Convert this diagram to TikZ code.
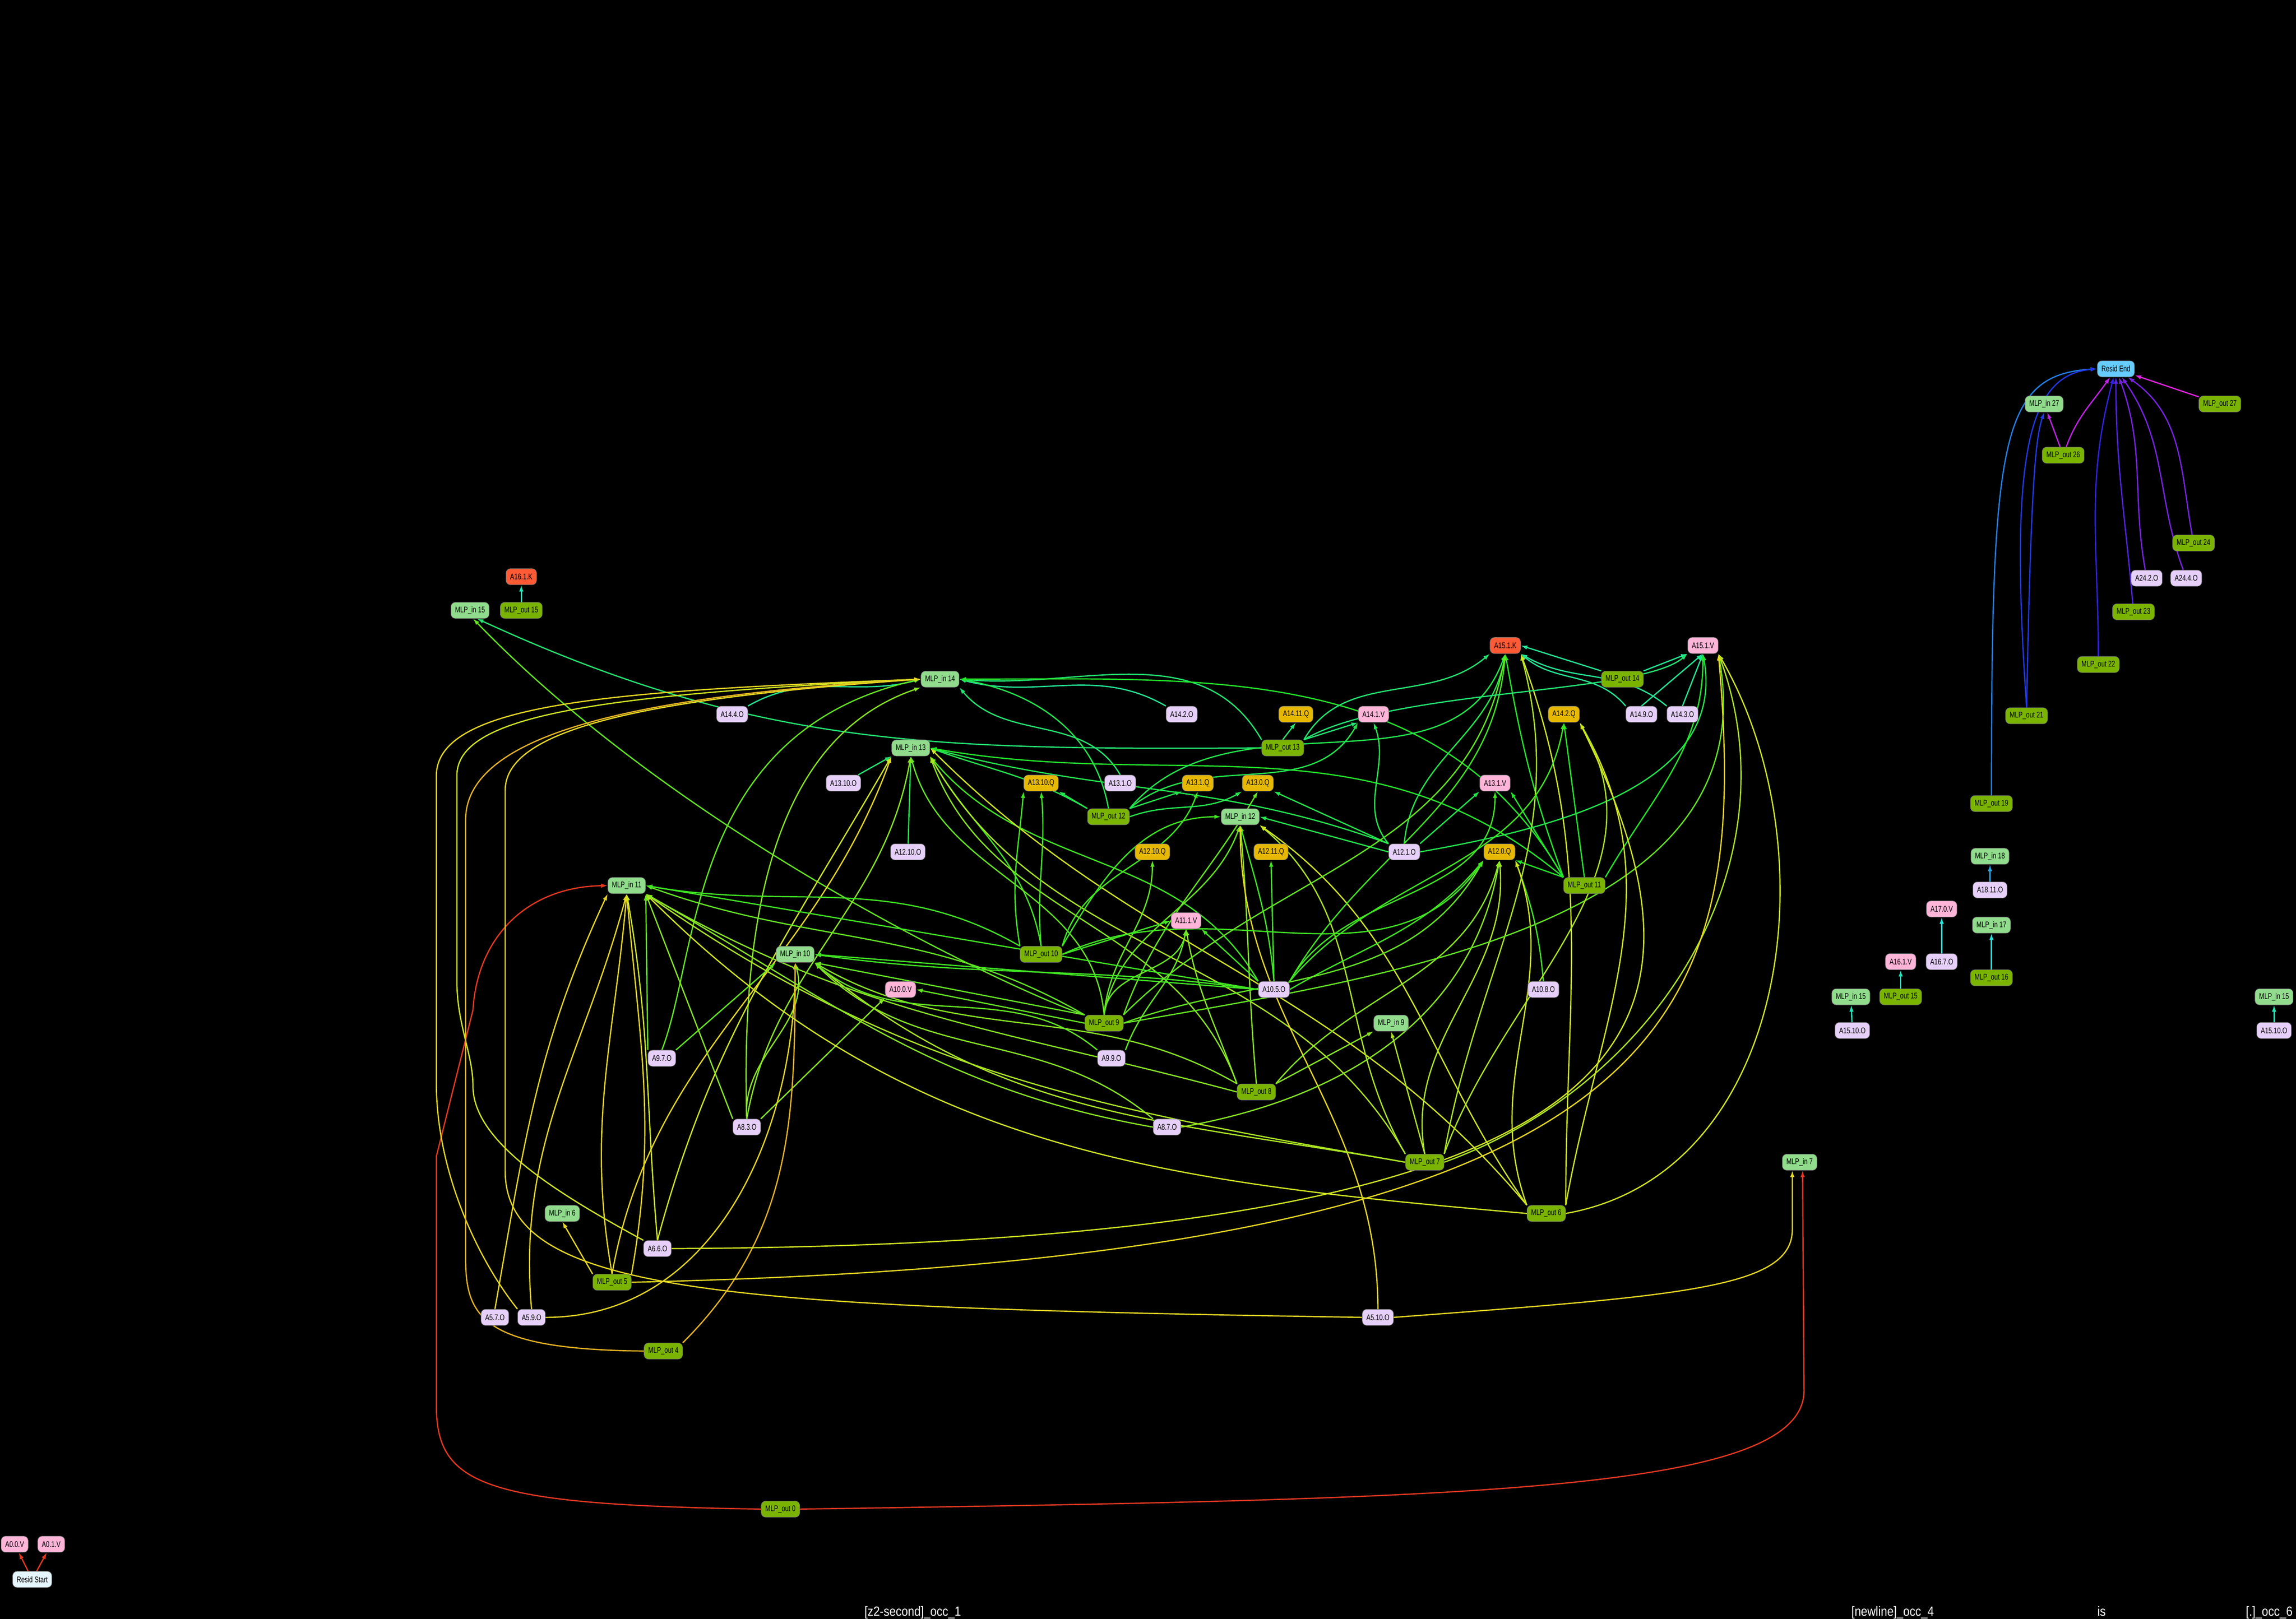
\documentclass[tikz,border=0pt]{standalone}
\usepackage{fontspec}
\setmainfont[FakeStretch=0.76]{Liberation Sans}
\newfontfamily\tokfont[FakeStretch=0.86]{Liberation Sans}
\usetikzlibrary{arrows.meta}

\definecolor{mlpinfill}{RGB}{144,220,140}
\definecolor{mlpoutfill}{RGB}{122,180,0}
\definecolor{ofill}{RGB}{230,208,250}
\definecolor{vfill}{RGB}{255,180,216}
\definecolor{qfill}{RGB}{230,184,0}
\definecolor{kfill}{RGB}{255,90,54}
\definecolor{endfill}{RGB}{102,204,255}
\definecolor{startfill}{RGB}{230,246,255}
% edge colours, one per source layer
\definecolor{lay0}{rgb}{0.900,0.220,0.135}
\definecolor{lay4}{rgb}{0.900,0.702,0.135}
\definecolor{lay5}{rgb}{0.900,0.844,0.135}
\definecolor{lay6}{rgb}{0.815,0.900,0.135}
\definecolor{lay7}{rgb}{0.673,0.900,0.135}
\definecolor{lay8}{rgb}{0.532,0.900,0.135}
\definecolor{lay9}{rgb}{0.390,0.900,0.135}
\definecolor{lay10}{rgb}{0.248,0.900,0.135}
\definecolor{lay11}{rgb}{0.135,0.900,0.163}
\definecolor{lay12}{rgb}{0.135,0.900,0.305}
\definecolor{lay13}{rgb}{0.135,0.900,0.446}
\definecolor{lay14}{rgb}{0.135,0.900,0.589}
\definecolor{lay15}{rgb}{0.135,0.900,0.730}
\definecolor{lay16}{rgb}{0.135,0.900,0.872}
\definecolor{lay18}{rgb}{0.135,0.645,0.900}
\definecolor{lay19}{rgb}{0.135,0.503,0.900}
\definecolor{lay21}{rgb}{0.135,0.220,0.900}
\definecolor{lay22}{rgb}{0.192,0.135,0.900}
\definecolor{lay23}{rgb}{0.333,0.135,0.900}
\definecolor{lay24}{rgb}{0.475,0.135,0.900}
\definecolor{lay26}{rgb}{0.758,0.135,0.900}
\definecolor{lay27}{rgb}{0.900,0.135,0.900}

\pgfdeclarelayer{bg}
\pgfdeclarelayer{edges}
\pgfsetlayers{bg,edges,main}

\tikzset{
  box/.style={rectangle,rounded corners=0.6mm,draw=black!55,line width=0.06mm,minimum height=2.2mm,inner xsep=0.56mm,inner ysep=0.2mm,text=black,font=\fontsize{3.2}{3.6}\selectfont},
  mlpin/.style={box,fill=mlpinfill},
  mlpout/.style={box,fill=mlpoutfill},
  heado/.style={box,fill=ofill},
  headv/.style={box,fill=vfill},
  headq/.style={box,fill=qfill},
  headk/.style={box,fill=kfill},
  residend/.style={box,fill=endfill},
  residstart/.style={box,fill=startfill},
  toklabel/.style={text=white,inner sep=0pt,font=\tokfont\fontsize{5.2}{5.6}\selectfont},
  wire/.style={draw=lay#1,line width=0.17mm,-{Latex[length=0.9mm,width=0.6mm]}}
}

\begin{document}
\begin{tikzpicture}[x=0.2mm,y=0.2mm]
\begin{pgfonlayer}{bg}
\fill[black] (0,0) rectangle (1568,-1106);
\end{pgfonlayer}
\useasboundingbox (0,0) rectangle (1568,-1106);

% right hand cluster
\node[residend] (rend) at (1445,-252) {Resid End};
\node[mlpin] (in27) at (1396,-276) {MLP\_in 27};
\node[mlpout] (o27) at (1516,-276) {MLP\_out 27};
\node[mlpout] (o26) at (1409,-311) {MLP\_out 26};
\node[mlpout] (o24) at (1498,-371) {MLP\_out 24};
\node[heado] (a24o2) at (1466,-395) {A24.2.O};
\node[heado] (a24o4) at (1493,-395) {A24.4.O};
\node[mlpout] (o23) at (1457,-418) {MLP\_out 23};
\node[mlpout] (o22) at (1433,-454) {MLP\_out 22};
\node[mlpout] (o21) at (1384,-489) {MLP\_out 21};
\node[mlpout] (o19) at (1360,-549) {MLP\_out 19};
\node[mlpin] (in18) at (1359,-585) {MLP\_in 18};
\node[heado] (a18o11) at (1359,-608) {A18.11.O};
\node[headv] (a17v0) at (1326,-621) {A17.0.V};
\node[mlpin] (in17) at (1360,-632) {MLP\_in 17};
\node[headv] (a16v1) at (1298,-657) {A16.1.V};
\node[heado] (a16o7) at (1326,-657) {A16.7.O};
\node[mlpout] (o16) at (1360,-668) {MLP\_out 16};
\node[mlpin] (in15b) at (1264,-681) {MLP\_in 15};
\node[mlpout] (o15b) at (1298,-681) {MLP\_out 15};
\node[heado] (a15o10b) at (1265,-704) {A15.10.O};
\node[mlpin] (in15c) at (1553,-681) {MLP\_in 15};
\node[heado] (a15o10c) at (1553,-704) {A15.10.O};
\node[mlpin] (in7) at (1229,-794) {MLP\_in 7};

% left top
\node[headk] (a16k1) at (356,-394) {A16.1.K};
\node[mlpin] (in15a) at (321,-417) {MLP\_in 15};
\node[mlpout] (o15a) at (356,-417) {MLP\_out 15};

% middle block
\node[mlpin] (in14) at (642,-464) {MLP\_in 14};
\node[headk] (a15k1) at (1028,-441) {A15.1.K};
\node[headv] (a15v1) at (1163,-441) {A15.1.V};
\node[mlpout] (o14) at (1108,-464) {MLP\_out 14};
\node[heado] (a14o4) at (500,-488) {A14.4.O};
\node[heado] (a14o2) at (807,-488) {A14.2.O};
\node[headq] (a14q11) at (885,-488) {A14.11.Q};
\node[headv] (a14v1) at (938,-488) {A14.1.V};
\node[headq] (a14q2) at (1068,-488) {A14.2.Q};
\node[heado] (a14o9) at (1121,-488) {A14.9.O};
\node[heado] (a14o3) at (1149,-488) {A14.3.O};
\node[mlpout] (o13) at (876,-511) {MLP\_out 13};
\node[mlpin] (in13) at (622,-511) {MLP\_in 13};
\node[heado] (a13o10) at (576,-535) {A13.10.O};
\node[headq] (a13q10) at (711,-535) {A13.10.Q};
\node[heado] (a13o1) at (765,-535) {A13.1.O};
\node[headq] (a13q1) at (818,-535) {A13.1.Q};
\node[headq] (a13q0) at (859,-535) {A13.0.Q};
\node[headv] (a13v1) at (1021,-535) {A13.1.V};
\node[mlpout] (o12) at (757,-558) {MLP\_out 12};
\node[mlpin] (in12) at (847,-558) {MLP\_in 12};
\node[heado] (a12o10) at (620,-582) {A12.10.O};
\node[headq] (a12q10) at (787,-582) {A12.10.Q};
\node[headq] (a12q11) at (868,-582) {A12.11.Q};
\node[heado] (a12o1) at (959,-582) {A12.1.O};
\node[headq] (a12q0) at (1024,-582) {A12.0.Q};
\node[mlpout] (o11) at (1082,-605) {MLP\_out 11};
\node[mlpin] (in11) at (428,-605) {MLP\_in 11};
\node[headv] (a11v1) at (810,-629) {A11.1.V};
\node[mlpin] (in10) at (543,-652) {MLP\_in 10};
\node[mlpout] (o10) at (711,-652) {MLP\_out 10};
\node[headv] (a10v0) at (615,-676) {A10.0.V};
\node[heado] (a10o5) at (870,-676) {A10.5.O};
\node[heado] (a10o8) at (1054,-676) {A10.8.O};
\node[mlpout] (o9) at (754,-699) {MLP\_out 9};
\node[mlpin] (in9) at (950,-699) {MLP\_in 9};
\node[heado] (a9o7) at (452,-723) {A9.7.O};
\node[heado] (a9o9) at (759,-723) {A9.9.O};
\node[mlpout] (o8) at (858,-746) {MLP\_out 8};
\node[heado] (a8o3) at (510,-770) {A8.3.O};
\node[heado] (a8o7) at (797,-770) {A8.7.O};
\node[mlpout] (o7) at (973,-794) {MLP\_out 7};
\node[mlpout] (o6) at (1056,-829) {MLP\_out 6};
\node[mlpin] (in6) at (384,-829) {MLP\_in 6};
\node[heado] (a6o6) at (449,-853) {A6.6.O};
\node[mlpout] (o5) at (418,-876) {MLP\_out 5};
\node[heado] (a5o7) at (338,-900) {A5.7.O};
\node[heado] (a5o9) at (363,-900) {A5.9.O};
\node[heado] (a5o10) at (941,-900) {A5.10.O};
\node[mlpout] (o4) at (453,-923) {MLP\_out 4};
\node[mlpout] (o0) at (533,-1031) {MLP\_out 0};
\node[headv] (a0v0) at (10,-1055) {A0.0.V};
\node[headv] (a0v1) at (35,-1055) {A0.1.V};
\node[residstart] (rstart) at (22,-1079) {Resid Start};

% token labels
\node[toklabel,anchor=base west] (tok1) at (590,-1104) {[z2-second]\_occ\_1};
\node[toklabel,anchor=base west] (tok4) at (1264,-1104) {[newline]\_occ\_4};
\node[toklabel,anchor=base west] (tokis) at (1432,-1104) {is};
\node[toklabel,anchor=base east] (tok6) at (1566,-1104) {[.]\_occ\_6};

\begin{pgfonlayer}{edges}
% into Resid End
\draw[wire=19] (o19.north) .. controls (1360,-300) and (1366,-256) .. (rend.west);
\draw[wire=21] (o21.north) .. controls (1372,-310) and (1385,-256) .. (rend.west);
\draw[wire=21] (o21.north) .. controls (1387,-330) and (1390,-300) .. (in27.south);
\draw[wire=26] (o26) -- (in27);
\draw[wire=26] (o26) to[out=70,in=-125] (rend);
\draw[wire=22] (o22) to[out=90,in=-105] (rend);
\draw[wire=23] (o23) to[out=95,in=-90] (rend);
\draw[wire=24] (a24o2) to[out=100,in=-70] (rend);
\draw[wire=24] (a24o4) to[out=110,in=-55] (rend);
\draw[wire=24] (o24) to[out=100,in=-35] (rend);
\draw[wire=27] (o27) -- (rend);
\draw[wire=18] (a18o11) -- (in18);
\draw[wire=16] (a16o7) -- (a17v0);
\draw[wire=16] (o16) -- (in17);
\draw[wire=15] (o15b) -- (a16v1);
\draw[wire=15] (a15o10b) -- (in15b);
\draw[wire=15] (a15o10c) -- (in15c);
\draw[wire=15] (o15a) -- (a16k1);
\draw[wire=0] (rstart) -- (a0v0);
\draw[wire=0] (rstart) -- (a0v1);
% long red and yellow ones
\draw[wire=0] (o0.east) .. controls (1000,-1024) and (1232,-1020) .. (1232,-950) -- ([xshift=0.4mm]in7.south);
\draw[wire=5] (a5o10.east) .. controls (1150,-885) and (1224,-880) .. (1224,-840) -- ([xshift=-1mm]in7.south);
\draw[wire=0] (o0.west) .. controls (330,-1028) and (298,-1015) .. (298,-960) -- (298,-790) -- (323,-690) .. controls (326,-640) and (360,-606) .. (in11.west);
\draw[wire=13] (o13.west) .. controls (640,-512) and (520,-512) .. (in15a.-50);
\draw[wire=9] (o9.north west) .. controls (700,-680) and (470,-575) .. (in15a.-70);
% into MLP_in 14
\draw[wire=14] (a14o4.north east) to[out=30,in=195] (in14.west);
\draw[wire=14] (a14o2.north west) to[out=150,in=-15] (in14.east);
\draw[wire=13] (a13o1.north) to[out=120,in=-50] (in14.south east);
\draw[wire=13] (o13.north west) to[out=120,in=-5] (in14.east);
\draw[wire=12] (o12.north) to[out=100,in=-10] (in14.east);
\draw[wire=11] (o11.north west) to[out=120,in=0] (in14.east);
\draw[wire=8] (a8o3.north) .. controls (505,-600) and (540,-500) .. (in14.south west);
\draw[wire=9] (a9o7.north) .. controls (478,-650) and (470,-500) .. (in14.west);
\draw[wire=5] (a5o9.north west) .. controls (326,-860) and (298,-800) .. (298,-740) -- (298,-530) .. controls (298,-480) and (420,-472) .. (in14.west);
\draw[wire=6] (a6o6.north west) .. controls (380,-815) and (323,-780) .. (323,-742) .. controls (323,-720) and (312,-700) .. (312,-670) -- (312,-530) .. controls (312,-490) and (400,-475) .. (in14.west);
\draw[wire=4] (o4.west) .. controls (330,-922) and (318,-900) .. (318,-860) -- (318,-560) .. controls (318,-500) and (440,-475) .. (in14.west);
\draw[wire=5] (a5o10.west) .. controls (500,-893) and (345,-885) .. (345,-800) -- (345,-540) .. controls (345,-500) and (430,-478) .. (in14.west);
% into MLP_in 13
\draw[wire=13] (a13o10) -- (in13.south west);
\draw[wire=12] (a12o10) -- (in13.south);
\draw[wire=12] (o12.north west) to[out=150,in=-20] (in13.east);
\draw[wire=12] (a12o1.north west) to[out=160,in=-15] (in13.east);
\draw[wire=11] (o11.north west) to[out=140,in=-10] (in13.east);
\draw[wire=10] (o10.north) to[out=100,in=-60] (in13.south east);
\draw[wire=10] (a10o5.north west) to[out=120,in=-50] (in13.south east);
\draw[wire=9] (o9.north) to[out=95,in=-75] (in13.south);
\draw[wire=8] (a8o3.north) to[out=80,in=-100] (in13.south);
\draw[wire=8] (o8.north west) to[out=110,in=-70] (in13.south east);
\draw[wire=7] (o7.north west) to[out=120,in=-60] (in13.south east);
\draw[wire=6] (o6.north west) to[out=130,in=-45] (in13.east);
\draw[wire=5] (o5.north) to[out=80,in=-110] (in13.south west);
\draw[wire=6] (a6o6.north) to[out=75,in=-120] (in13.south west);
% into MLP_in 12
\draw[wire=10] (o10.north east) to[out=60,in=180] (in12.west);
\draw[wire=9] (o9.north) to[out=80,in=-110] (in12.south);
\draw[wire=10] (a10o5.north) to[out=95,in=-75] (in12.south);
\draw[wire=8] (o8.north) to[out=95,in=-85] (in12.south);
\draw[wire=12] (a12o1.west) -- (in12.east);
\draw[wire=7] (o7.north west) to[out=120,in=-40] (in12.south east);
\draw[wire=6] (o6.north west) to[out=125,in=-35] (in12.south east);
\draw[wire=5] (a5o10.north) to[out=90,in=-90] (in12.south);
% queries and values of layers 11-14
\draw[wire=12] (o12.north west) -- (a13q10.south east);
\draw[wire=10] (o10.north) to[out=95,in=-85] (a13q10.south);
\draw[wire=10] (o10.north west) to[out=100,in=-95] (a13q10.south west);
\draw[wire=12] (o12.north east) -- (a13q1.south west);
\draw[wire=10] (o10.north east) to[out=75,in=-110] (a13q1.south);
\draw[wire=12] (o12.east) to[out=20,in=-150] (a13q0.south west);
\draw[wire=9] (o9.north east) to[out=70,in=-120] (a13q0.south);
\draw[wire=12] (a12o1.north west) -- (a13q0.south east);
\draw[wire=12] (a12o1.north east) -- (a13v1.south west);
\draw[wire=11] (o11.north west) -- (a13v1.south east);
\draw[wire=10] (a10o5.north east) to[out=60,in=-90] (a13v1.south);
\draw[wire=9] (o9.north) to[out=85,in=-90] (a12q10.south);
\draw[wire=10] (a10o5.north) -- (a12q11.south);
\draw[wire=11] (o11.north west) -- (a12q0.south east);
\draw[wire=10] (a10o8.north) to[out=95,in=-70] (a12q0.south east);
\draw[wire=10] (a10o5.east) to[out=30,in=-130] (a12q0.south west);
\draw[wire=9] (o9.east) to[out=20,in=-120] (a12q0.south west);
\draw[wire=8] (o8.north east) to[out=50,in=-105] (a12q0.south);
\draw[wire=7] (o7.north) to[out=100,in=-85] (a12q0.south);
\draw[wire=6] (o6.north west) to[out=110,in=-70] (a12q0.south east);
\draw[wire=10] (o10.east) to[out=25,in=-125] (a12q0.south west);
\draw[wire=8] (a8o7.east) to[out=10,in=-100] (a12q0.south);
\draw[wire=10] (o10.east) -- (a11v1.west);
\draw[wire=9] (o9.north) to[out=85,in=-100] (a11v1.south);
\draw[wire=10] (a10o5.north west) -- (a11v1.south east);
\draw[wire=8] (o8.north west) to[out=110,in=-80] (a11v1.south);
\draw[wire=9] (a9o9.north east) to[out=70,in=-100] (a11v1.south);
\draw[wire=9] (o9.west) -- (a10v0.east);
\draw[wire=8] (a8o3.north east) -- (a10v0.south west);
% into MLP_in 10
\draw[wire=10] (a10o5.west) -- (in10.east);
\draw[wire=10] (a10o5.west) to[out=172,in=-8] (in10.east);
\draw[wire=9] (o9.north west) -- (in10.south east);
\draw[wire=9] (a9o7.north east) -- (in10.south west);
\draw[wire=8] (a8o3.north) to[out=95,in=-75] (in10.south);
\draw[wire=8] (o8.north west) to[out=150,in=-30] (in10.south east);
\draw[wire=7] (o7.west) to[out=170,in=-40] (in10.south east);
\draw[wire=8] (a8o7.north west) to[out=140,in=-45] (in10.south east);
\draw[wire=9] (a9o9.north west) to[out=140,in=-40] (in10.south east);
\draw[wire=5] (a5o9.east) to[out=0,in=-90] (in10.south);
\draw[wire=4] (o4.north east) to[out=45,in=-90] (in10.south);
% into MLP_in 11
\draw[wire=5] (a5o7.north) to[out=80,in=-115] (in11.south west);
\draw[wire=5] (a5o9.north) to[out=95,in=-105] (in11.south);
\draw[wire=5] (o5.north) to[out=100,in=-95] (in11.south);
\draw[wire=5] (o5.north east) to[out=80,in=-85] (in11.south);
\draw[wire=9] (a9o7.north west) -- (in11.south east);
\draw[wire=8] (a8o3.north west) -- (in11.south east);
\draw[wire=10] (a10o5.west) -- (in11.east);
\draw[wire=9] (o9.north west) to[out=150,in=-20] (in11.east);
\draw[wire=10] (o10.north west) to[out=150,in=-10] (in11.east);
\draw[wire=8] (o8.west) to[out=165,in=-30] (in11.south east);
\draw[wire=6] (o6.west) to[out=175,in=-45] (in11.south east);
\draw[wire=6] (a6o6.north) to[out=95,in=-80] (in11.south);
\draw[wire=7] (o7.west) to[out=170,in=-35] (in11.south east);
\draw[wire=8] (a8o7.west) to[out=170,in=-30] (in11.south east);
\draw[wire=8] (o8.north east) -- (in9.south west);
\draw[wire=7] (o7.north) -- (in9.south);
\draw[wire=5] (o5.north west) -- (in6.south);
% into A15.1.K and A15.1.V
\draw[wire=13] (o13.north east) to[out=60,in=-140] (a15k1.south west);
\draw[wire=12] (o12.north east) to[out=50,in=-110] (a15k1.south);
\draw[wire=12] (a12o1.north) to[out=85,in=-100] (a15k1.south);
\draw[wire=11] (o11.north west) to[out=110,in=-80] (a15k1.south);
\draw[wire=10] (a10o5.north east) to[out=60,in=-95] (a15k1.south);
\draw[wire=9] (o9.north east) to[out=45,in=-100] (a15k1.south);
\draw[wire=14] (o14.north west) -- (a15k1.east);
\draw[wire=14] (a14o9.north west) to[out=130,in=-40] (a15k1.south east);
\draw[wire=14] (a14o3.north west) to[out=140,in=-30] (a15k1.south east);
\draw[wire=7] (o7.north east) to[out=80,in=-75] (a15k1.south east);
\draw[wire=6] (o6.north east) to[out=90,in=-70] (a15k1.south east);
\draw[wire=14] (o14.north east) -- (a15v1.south west);
\draw[wire=14] (a14o3.north) -- (a15v1.south);
\draw[wire=14] (a14o9.north) -- (a15v1.south);
\draw[wire=13] (o13.north east) .. controls (950,-470) and (1120,-475) .. (a15v1.south west);
\draw[wire=12] (a12o1.east) to[out=10,in=-80] (a15v1.south);
\draw[wire=11] (o11.north east) to[out=60,in=-90] (a15v1.south);
\draw[wire=9] (o9.east) to[out=10,in=-80] (a15v1.south east);
\draw[wire=6] (o6.east) to[out=10,in=-60] (a15v1.south east);
\draw[wire=7] (o7.east) to[out=20,in=-70] (a15v1.south east);
\draw[wire=5] (o5.east) .. controls (1150,-860) and (1195,-700) .. (a15v1.south east);
% into layer 14 heads
\draw[wire=13] (o13.north east) -- (a14v1.south west);
\draw[wire=12] (o12.north east) to[out=40,in=-120] (a14v1.south west);
\draw[wire=12] (a12o1.north west) to[out=130,in=-70] (a14v1.south);
\draw[wire=13] (o13.north) -- (a14q11.south);
\draw[wire=11] (o11.north) -- (a14q2.south);
\draw[wire=10] (a10o5.north east) to[out=50,in=-100] (a14q2.south);
\draw[wire=6] (o6.north east) to[out=80,in=-60] (a14q2.south east);
\draw[wire=7] (o7.north east) to[out=70,in=-60] (a14q2.south east);
\draw[wire=6] (a6o6.east) .. controls (1150,-850) and (1180,-700) .. (a14q2.south east);
\end{pgfonlayer}
\end{tikzpicture}
\end{document}
